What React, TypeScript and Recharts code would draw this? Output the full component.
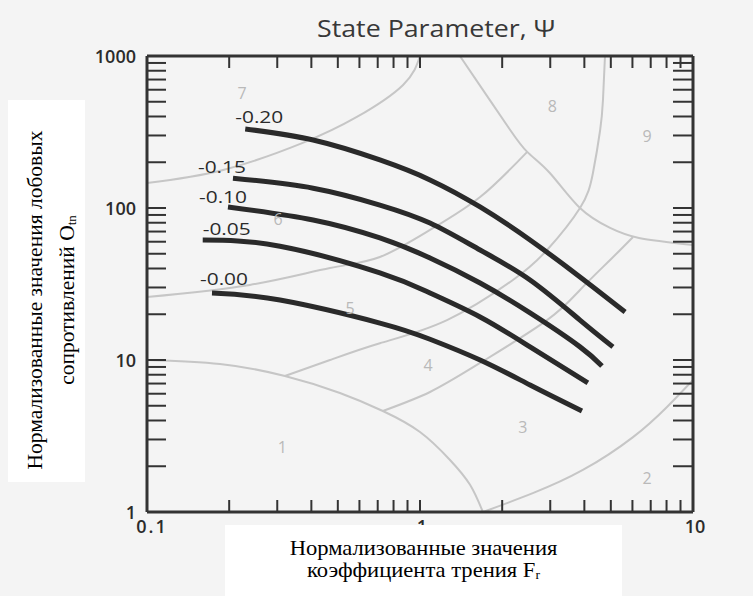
import React from 'react';
import { ComposedChart, Line, Scatter, XAxis, YAxis } from 'recharts';

// tick values (log axes)
const xTicks = [0.1, 0.2, 0.3, 0.4, 0.5, 0.6, 0.7, 0.8, 0.9, 1, 2, 3, 4, 5, 6, 7, 8, 9, 10];
const yTicks = [1, 2, 3, 4, 5, 6, 7, 8, 9, 10, 20, 30, 40, 50, 60, 70, 80, 90, 100,
  200, 300, 400, 500, 600, 700, 800, 900, 1000];
const xMajor = [0.1, 1, 10];
const yMajor = [1, 10, 100, 1000];

// state parameter curves
const psi020X = [0.229, 0.406, 0.713, 1.088, 1.66, 2.53, 3.855, 5.64];
const psi020Y = [331, 280, 207, 153, 101.6, 61.6, 35.2, 20.7];
const psi015X = [0.2065, 0.406, 0.713, 1.088, 1.66, 2.53, 3.855, 5.09];
const psi015Y = [157, 135, 104.6, 79.6, 52.9, 33.6, 18.3, 12.2];
const psi010X = [0.198, 0.406, 0.713, 1.088, 1.66, 2.53, 3.855, 4.64];
const psi010Y = [101.6, 83.4, 63.5, 46.9, 32.1, 20.4, 12.2, 9.13];
const psi005X = [0.16, 0.307, 0.713, 1.088, 1.66, 2.53, 4.12];
const psi005Y = [61.6, 56, 37.4, 27.6, 19.2, 12.2, 7.06];
const psi000X = [0.173, 0.307, 0.713, 1.088, 1.66, 2.53, 3.92];
const psi000Y = [27.6, 24.8, 17.5, 13.7, 10, 6.85, 4.62];

// soil behaviour zone boundaries
const zoneAX = [0.1, 0.185, 0.32, 0.509, 0.731, 1.0, 1.288, 1.525, 1.7];
const zoneAY = [10, 9.41, 7.85, 6.07, 4.62, 3.36, 2.2, 1.51, 1.0];
const zoneCX = [0.1, 0.19, 0.372, 0.587, 0.867, 1.0];
const zoneCY = [146, 178, 268, 397, 645, 1000];
const zoneGX = [0.1, 0.238, 0.468, 0.713, 1.088, 1.66, 2.47];
const zoneGY = [26.0, 31.2, 40.3, 47.6, 71.7, 118, 234];
const zoneDX = [1.4, 1.8, 2.14, 2.47, 2.99, 3.855, 4.97, 6.34, 10];
const zoneDY = [1000, 514, 326, 234, 170, 100, 73.9, 63.5, 57.1];
const zoneEX = [0.32, 0.468, 0.713, 1.256, 2.19, 2.92, 3.855, 4.3, 4.57, 4.68, 4.76];
const zoneEY = [7.85, 10, 12.9, 18.3, 33.6, 52.9, 100, 170, 326, 514, 1000];
const zoneHX = [0.731, 1.088, 1.66, 2.92, 3.855, 4.97, 6.03];
const zoneHY = [4.62, 6.16, 9.56, 18.3, 28.9, 45.5, 64.5];
const zoneIX = [1.7, 2.59, 3.95, 6.03, 8.03, 10];
const zoneIY = [1.0, 1.33, 1.89, 3.11, 4.91, 7.39];

// zone numbers
const zoneNames = ['1', '2', '3', '4', '5', '6', '7', '8', '9'];
const zoneNameX = [0.313, 6.79, 2.38, 1.07, 0.555, 0.302, 0.223, 3.05, 6.79];
const zoneNameY = [2.68, 1.67, 3.62, 9.27, 22.0, 84.7, 571, 469, 298];

const zip = (xs: number[], ys: number[]) => xs.map((x, i) => ({ x, y: ys[i] }));

const psiCurves = [
  { name: '-0.20', data: zip(psi020X, psi020Y), dx: -10, dy: -6 },
  { name: '-0.15', data: zip(psi015X, psi015Y), dx: -35, dy: -5 },
  { name: '-0.10', data: zip(psi010X, psi010Y), dx: -29, dy: -4 },
  { name: '-0.05', data: zip(psi005X, psi005Y), dx: 0, dy: -5 },
  { name: '-0.00', data: zip(psi000X, psi000Y), dx: -12, dy: -8 },
];

const zoneLines = [
  zip(zoneAX, zoneAY),
  zip(zoneCX, zoneCY),
  zip(zoneGX, zoneGY),
  zip(zoneDX, zoneDY),
  zip(zoneEX, zoneEY),
  zip(zoneHX, zoneHY),
  zip(zoneIX, zoneIY),
];

const zoneLabels = zoneNames.map((n, i) => ({ x: zoneNameX[i], y: zoneNameY[i], n }));

const AXIS = '#333';
const tickFont = { fontFamily: '"Open Sans", sans-serif', fontWeight: 600, fontSize: 18 };
const serif = '"Liberation Serif", "Times New Roman", serif';

const BottomTick = (props: any) => {
  const { x, y, payload } = props;
  const v = payload.value;
  return (
    <g>
      <line x1={x} y1={y} x2={x} y2={y - 12} stroke={AXIS} strokeWidth={2} />
      {xMajor.includes(v) && (
        <text x={v === 0.1 ? x + 5 : x + 2} y={y + 21} textAnchor="middle" fill="#2b2b2b" letterSpacing={v === 0.1 ? 2 : 0} {...tickFont}>{v}</text>
      )}
    </g>
  );
};

const TopTick = (props: any) => {
  const { x, y } = props;
  return <line x1={x} y1={y} x2={x} y2={y + 12} stroke={AXIS} strokeWidth={2} />;
};

const LeftTick = (props: any) => {
  const { x, y, payload } = props;
  const v = payload.value;
  return (
    <g>
      <line x1={x} y1={y} x2={x + 19} y2={y} stroke={AXIS} strokeWidth={2} />
      {yMajor.includes(v) && (
        <text x={x - 11} y={y + 7} textAnchor="end" fill="#2b2b2b" {...tickFont}>{v}</text>
      )}
    </g>
  );
};

const RightTick = (props: any) => {
  const { x, y } = props;
  return <line x1={x} y1={y} x2={x - 20} y2={y} stroke={AXIS} strokeWidth={2} />;
};

const ZoneText = (props: any) => {
  const { cx, cy, payload } = props;
  return (
    <text x={cx} y={cy} textAnchor="middle" dominantBaseline="central" fill="#b9b9b9"
      fontFamily='"Open Sans", sans-serif' fontSize={16}>
      {payload.n}
    </text>
  );
};

export default function App() {
  return (
    <div style={{ position: 'absolute', left: 0, top: 0, width: 753, height: 596, background: '#f4f4f4', overflow: 'hidden' }}>
      <ComposedChart width={753} height={596} margin={{ top: 55, right: 59, bottom: 54, left: 87 }}>
        <XAxis xAxisId={0} dataKey="x" type="number" scale="log" domain={[0.1, 10]} allowDataOverflow
          ticks={xTicks} interval={0} tickSize={0} tickMargin={0} height={30}
          axisLine={{ stroke: AXIS, strokeWidth: 3 }} tickLine={false} tick={<BottomTick />} />
        <XAxis xAxisId="top" orientation="top" dataKey="x" type="number" scale="log" domain={[0.1, 10]} allowDataOverflow
          ticks={xTicks} interval={0} tickSize={0} tickMargin={0} height={1}
          axisLine={{ stroke: AXIS, strokeWidth: 3 }} tickLine={false} tick={<TopTick />} />
        <YAxis yAxisId={0} dataKey="y" type="number" scale="log" domain={[1, 1000]} allowDataOverflow
          ticks={yTicks} interval={0} tickSize={0} tickMargin={0} width={60}
          axisLine={{ stroke: AXIS, strokeWidth: 3 }} tickLine={false} tick={<LeftTick />} />
        <YAxis yAxisId="right" orientation="right" dataKey="y" type="number" scale="log" domain={[1, 1000]} allowDataOverflow
          ticks={yTicks} interval={0} tickSize={0} tickMargin={0} width={1}
          axisLine={{ stroke: AXIS, strokeWidth: 3 }} tickLine={false} tick={<RightTick />} />

        {zoneLines.map((d, i) => (
          <Line key={`z${i}`} data={d} dataKey="y" type="natural" stroke="#c6c6c6" strokeWidth={2}
            dot={false} activeDot={false} isAnimationActive={false} />
        ))}

        <Scatter data={zoneLabels} dataKey="y" shape={<ZoneText />} isAnimationActive={false} />

        {psiCurves.map((c) => (
          <Line key={c.name} data={c.data} dataKey="y" type="natural" stroke="#2a2a2a" strokeWidth={5}
            activeDot={false} isAnimationActive={false}
            dot={(p: any) =>
              p.index === 0 ? (
                <text key={`l${c.name}`} x={p.cx + c.dx} y={p.cy + c.dy} fill="#2a2a2a"
                  fontFamily='"Open Sans", sans-serif' fontWeight={500} fontSize={17}
                  textLength={48} lengthAdjust="spacingAndGlyphs">
                  {c.name}
                </text>
              ) : (
                <g key={`d${c.name}${p.index}`} />
              )
            } />
        ))}
      </ComposedChart>

      <svg width={753} height={60} style={{ position: 'absolute', left: 0, top: 0 }}>
        <text x={317} y={37} fill="#383838" fontFamily='"Open Sans", sans-serif' fontSize={23}
          textLength={238} lengthAdjust="spacingAndGlyphs">
          State Parameter, Ψ
        </text>
      </svg>

      <div style={{ position: 'absolute', left: 8, top: 100, width: 77, height: 382, background: '#fff' }} />
      <div style={{ position: 'absolute', left: 51 - 210, top: 300 - 32, width: 420, height: 64, transform: 'rotate(-90deg)', textAlign: 'center', fontFamily: serif, fontSize: 21.5, lineHeight: '32px', color: '#000', whiteSpace: 'nowrap' }}>
        Нормализованные значения лобовых<br />
        сопротивлений O<span style={{ fontSize: 13, verticalAlign: '-2px' }}>tn</span>
      </div>

      <div style={{ position: 'absolute', left: 225, top: 525, width: 397, height: 71, background: '#fff' }} />
      <div style={{ position: 'absolute', left: 225, top: 537, width: 397, textAlign: 'center', fontFamily: serif, fontSize: 21.5, lineHeight: '22px', color: '#000', transform: 'scaleX(1.05)' }}>
        Нормализованные значения<br />
        коэффициента трения F<span style={{ fontSize: 13, verticalAlign: '-2px' }}>r</span>
      </div>
    </div>
  );
}
